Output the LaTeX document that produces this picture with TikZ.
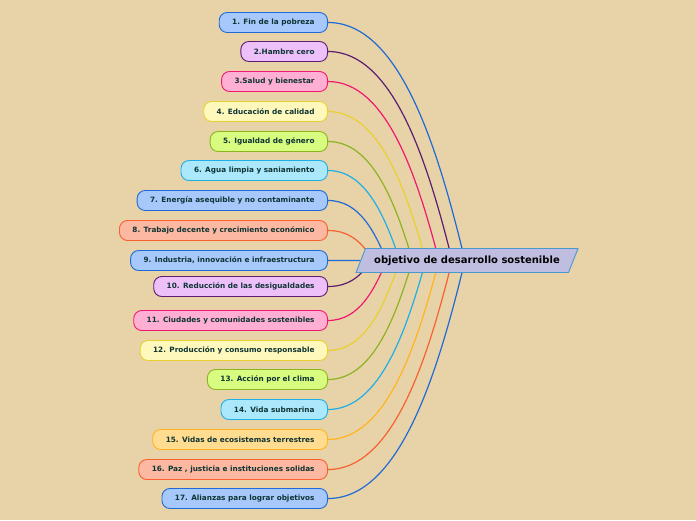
\documentclass[tikz,border=0pt]{standalone}
\usepackage{fontspec}
\newfontfamily\sdgfont{DejaVu Sans}
\usetikzlibrary{backgrounds}
\usetikzlibrary{shapes.geometric}
\usetikzlibrary{calc}
\definecolor{paper}{HTML}{E8D3A8}
\definecolor{goaltext}{HTML}{0E3434}
\definecolor{blueFill}{HTML}{A6C8FA}
\definecolor{blueLine}{HTML}{1F6AD6}
\definecolor{purpleFill}{HTML}{EEC0FA}
\definecolor{purpleLine}{HTML}{5C1C70}
\definecolor{pinkFill}{HTML}{FFB0D2}
\definecolor{pinkLine}{HTML}{F01870}
\definecolor{yellowFill}{HTML}{FFF8BC}
\definecolor{yellowLine}{HTML}{E8D030}
\definecolor{greenFill}{HTML}{D8FC80}
\definecolor{greenLine}{HTML}{8CB420}
\definecolor{cyanFill}{HTML}{ACE8FC}
\definecolor{cyanLine}{HTML}{20AEE6}
\definecolor{salmonFill}{HTML}{FCB8A0}
\definecolor{salmonLine}{HTML}{F86030}
\definecolor{orangeFill}{HTML}{FFDC90}
\definecolor{orangeLine}{HTML}{FFB420}
\definecolor{rootFill}{HTML}{C0BEE0}
\definecolor{rootLine}{HTML}{4A98D0}
\newcommand{\goalx}{328}
\newcommand{\hubx}{467}
\newcommand{\huby}{260.5}

\tikzset{
  goal/.style={draw=#1Line, fill=#1Fill, rounded corners=8pt,
    line width=0.9pt, minimum height=20pt, inner xsep=13pt,
    inner ysep=0pt, anchor=east, text=goaltext,
    font=\sdgfont\bfseries\fontsize{7.3}{8}\selectfont},
  link/.style={draw=#1Line, line width=1.2pt},
}

\begin{document}
\begin{tikzpicture}[x=1pt,y=-1pt]
    \useasboundingbox (0,0) rectangle (696,520);

    \node (root) at (\hubx,\huby) [trapezium, trapezium left angle=60,
      trapezium right angle=120, trapezium stretches body,
      minimum width=222pt, minimum height=24pt, inner xsep=2pt,
      draw=rootLine, fill=rootFill, line width=0.9pt,
      font=\sdgfont\bfseries\fontsize{10}{11}\selectfont]
      {objetivo de desarrollo sostenible};

    \begin{scope}[on background layer]
      \fill[paper] (0,0) rectangle (696,520);
    \end{scope}

    \foreach \n/\y/\clr/\txt in {
        1/22.5/blue/{1. Fin de la pobreza},
        2/51.5/purple/{2.Hambre cero},
        3/81.5/pink/{3.Salud y bienestar},
        4/111.5/yellow/{4. Educación de calidad},
        5/141.5/green/{5. Igualdad de género},
        6/170.5/cyan/{6. Agua limpia y saniamiento},
        7/200.5/blue/{7. Energía asequible y no contaminante},
        8/230.5/salmon/{8. Trabajo decente y crecimiento económico},
        9/260.5/blue/{9. Industria, innovación e infraestructura},
        10/286.5/purple/{10. Reducción de las desigualdades},
        11/320.5/pink/{11. Ciudades y comunidades sostenibles},
        12/350.5/yellow/{12. Producción y consumo responsable},
        13/379.5/green/{13. Acción por el clima},
        14/409.5/cyan/{14. Vida submarina},
        15/439.5/orange/{15. Vidas de ecosistemas terrestres},
        16/469.5/salmon/{16. Paz , justicia e instituciones solidas},
        17/498.5/blue/{17. Alianzas para lograr objetivos}} {
      \node (g\n) at (\goalx,\y) [goal=\clr] {\txt};

      % curve ends hidden under the root, spread along it
      \pgfmathsetmacro{\dy}{\huby-\y}
      \pgfmathsetmacro{\dx}{35+0.44*abs(\dy)}
      \coordinate (e\n) at ($(root.west)+({\dx-35},0)$);
      \begin{scope}[on background layer]
        \draw[link=\clr] (g\n.east)
          .. controls +({0.52*\dx},0) and +({-0.19*\dx},{-0.46*\dy}) .. (e\n);
      \end{scope}
    }
  \end{tikzpicture}
\end{document}
